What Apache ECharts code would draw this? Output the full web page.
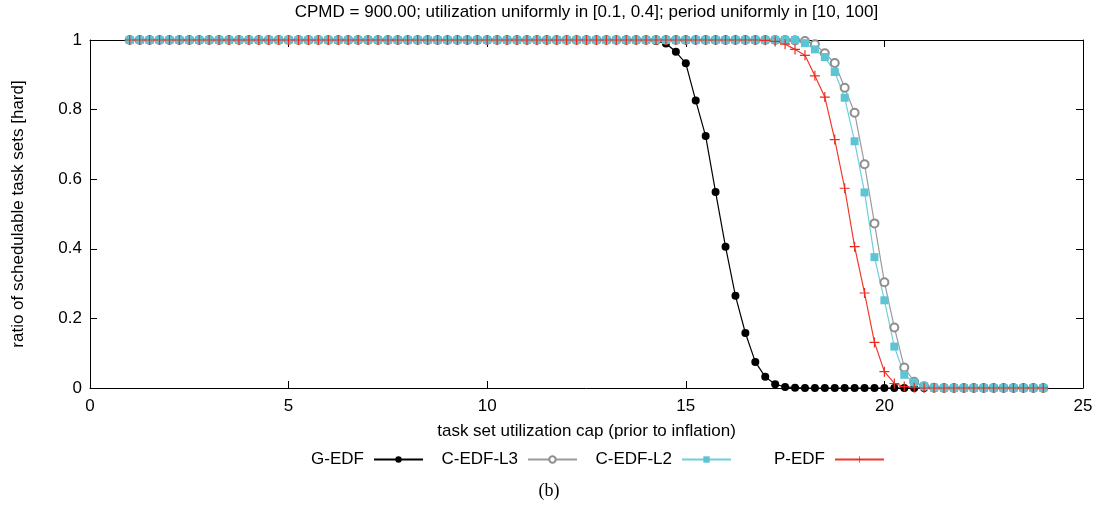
<!DOCTYPE html>
<html>
<head>
<meta charset="utf-8">
<script src="https://cdn.jsdelivr.net/npm/echarts@6/dist/echarts.min.js"></script>
<style>
html,body{margin:0;padding:0;background:#fff;}
#chart{width:1103px;height:507px;}
</style>
</head>
<body>
<div id="chart"></div>
<script>
// task set utilization cap (x values)
var xValues = [
  1,1.25,1.5,1.75, 2,2.25,2.5,2.75, 3,3.25,3.5,3.75, 4,4.25,4.5,4.75,
  5,5.25,5.5,5.75, 6,6.25,6.5,6.75, 7,7.25,7.5,7.75, 8,8.25,8.5,8.75,
  9,9.25,9.5,9.75, 10,10.25,10.5,10.75, 11,11.25,11.5,11.75, 12,12.25,12.5,12.75,
  13,13.25,13.5,13.75, 14,14.25,14.5,14.75, 15,15.25,15.5,15.75, 16,16.25,16.5,16.75,
  17,17.25,17.5,17.75, 18,18.25,18.5,18.75, 19,19.25,19.5,19.75, 20,20.25,20.5,20.75,
  21,21.25,21.5,21.75, 22,22.25,22.5,22.75, 23,23.25,23.5,23.75, 24
];
var gEdf = [
  1,1,1,1, 1,1,1,1, 1,1,1,1, 1,1,1,1,
  1,1,1,1, 1,1,1,1, 1,1,1,1, 1,1,1,1,
  1,1,1,1, 1,1,1,1, 1,1,1,1, 1,1,1,1,
  1,1,1,1, 1,0.997,0.99,0.966, 0.933,0.826,0.724,0.563, 0.406,0.265,0.158,0.075,
  0.032,0.011,0.003,0.001, 0,0,0,0, 0,0,0,0, 0,0,0,0,
  0,0,0,0, 0,0,0,0, 0,0,0,0, 0
];
var cEdfL3 = [
  1,1,1,1, 1,1,1,1, 1,1,1,1, 1,1,1,1,
  1,1,1,1, 1,1,1,1, 1,1,1,1, 1,1,1,1,
  1,1,1,1, 1,1,1,1, 1,1,1,1, 1,1,1,1,
  1,1,1,1, 1,1,1,1, 1,1,1,1, 1,1,1,1,
  1,1,1,0.999, 0.997,0.988,0.962,0.934, 0.863,0.791,0.643,0.473, 0.304,0.174,0.059,0.018,
  0.005,0.001,0,0, 0,0,0,0, 0,0,0,0, 0
];
var cEdfL2 = [
  1,1,1,1, 1,1,1,1, 1,1,1,1, 1,1,1,1,
  1,1,1,1, 1,1,1,1, 1,1,1,1, 1,1,1,1,
  1,1,1,1, 1,1,1,1, 1,1,1,1, 1,1,1,1,
  1,1,1,1, 1,1,1,1, 1,1,1,1, 1,1,1,1,
  1,1,1,1, 0.991,0.973,0.951,0.908, 0.834,0.709,0.562,0.376, 0.252,0.119,0.038,0.016,
  0.005,0.001,0,0, 0,0,0,0, 0,0,0,0, 0
];
var pEdf = [
  1,1,1,1, 1,1,1,1, 1,1,1,1, 1,1,1,1,
  1,1,1,1, 1,1,1,1, 1,1,1,1, 1,1,1,1,
  1,1,1,1, 1,1,1,1, 1,1,1,1, 1,1,1,1,
  1,1,1,1, 1,1,1,1, 1,1,1,1, 1,1,1,1,
  0.999,0.996,0.988,0.973, 0.956,0.897,0.836,0.714, 0.574,0.406,0.273,0.131, 0.047,0.013,0.004,0.001,
  0,0,0,0, 0,0,0,0, 0,0,0,0, 0
];
var seriesNames = ['G-EDF', 'C-EDF-L3', 'C-EDF-L2', 'P-EDF'];
var xTicks = [0, 5, 10, 15, 20, 25];
var yTicks = [0, 0.2, 0.4, 0.6, 0.8, 1];

function pairs(ys) { return xValues.map(function (x, i) { return [x, ys[i]]; }); }

var FONT = 'Liberation Sans';
var FS = 17;
var plusPath = 'path://M4.4,0H5.6V10H4.4Z M0,4.4H10V5.6H0Z';

var chart = echarts.init(document.getElementById('chart'), null, {renderer: 'canvas'});

function legendFor(name, rightPx) {
  return {
    data: [name],
    right: rightPx,
    top: 451,
    orient: 'horizontal',
    align: 'right',
    itemWidth: 49,
    itemHeight: 8,
    padding: 0,
    textStyle: {fontFamily: FONT, fontSize: FS, color: '#000', padding: [0, 5, 0, 0]}
  };
}

var axisLineStyle = {color: '#000', width: 1};

function frameAxis(extra) {
  var base = {
    type: 'value',
    axisLine: {show: true, onZero: false, lineStyle: axisLineStyle},
    axisTick: {show: true, inside: true, length: 7, lineStyle: axisLineStyle},
    splitLine: {show: false}
  };
  for (var k in extra) base[k] = extra[k];
  return base;
}

var option = {
  animation: false,
  backgroundColor: '#fff',
  grid: {left: 90, right: 20, top: 40, bottom: 119, containLabel: false},
  legend: [
    legendFor(seriesNames[0], 679),
    legendFor(seriesNames[1], 525),
    legendFor(seriesNames[2], 371),
    legendFor(seriesNames[3], 218)
  ],
  xAxis: [
    frameAxis({
      min: 0, max: 25, interval: 5, position: 'bottom',
      name: 'task set utilization cap (prior to inflation)',
      nameLocation: 'middle', nameGap: 35,
      nameTextStyle: {fontFamily: FONT, fontSize: FS, color: '#000'},
      axisLabel: {fontFamily: FONT, fontSize: FS, color: '#000', margin: 10,
        formatter: function (v) { return xTicks.indexOf(v) >= 0 ? String(v) : ''; }}
    }),
    frameAxis({min: 0, max: 25, interval: 5, position: 'top', axisLabel: {show: false}})
  ],
  yAxis: [
    frameAxis({
      min: 0, max: 1, interval: 0.2, position: 'left',
      name: 'ratio of schedulable task sets [hard]',
      nameLocation: 'middle', nameGap: 63,
      nameTextStyle: {fontFamily: FONT, fontSize: FS, color: '#000'},
      axisLabel: {fontFamily: FONT, fontSize: FS, color: '#000', margin: 8,
        formatter: function (v) {
          for (var i = 0; i < yTicks.length; i++) { if (Math.abs(yTicks[i] - v) < 1e-9) return String(yTicks[i]); }
          return '';
        }}
    }),
    frameAxis({min: 0, max: 1, interval: 0.2, position: 'right', axisLabel: {show: false}})
  ],
  series: [{
    name: seriesNames[0], type: 'line', data: pairs(gEdf),
    symbol: 'circle', symbolSize: 8,
    lineStyle: {color: '#000', width: 1.2},
    itemStyle: {color: '#000'}
  }, {
    name: seriesNames[1], type: 'line', data: pairs(cEdfL3),
    symbol: 'emptyCircle', symbolSize: 8,
    lineStyle: {color: '#9b9b9b', width: 1.2},
    itemStyle: {color: '#8e8e8e', borderWidth: 1}
  }, {
    name: seriesNames[2], type: 'line', data: pairs(cEdfL2),
    symbol: 'rect', symbolSize: 8,
    lineStyle: {color: '#6ccfdc', width: 1.2},
    itemStyle: {color: '#5cc5d5'}
  }, {
    name: seriesNames[3], type: 'line', data: pairs(pEdf),
    symbol: plusPath, symbolSize: 10,
    lineStyle: {color: '#f0382a', width: 1.2},
    itemStyle: {color: '#ee2a1e'}
  }],
  graphic: [{
    type: 'text', x: 586.5, y: 4,
    style: {
      text: 'CPMD = 900.00; utilization uniformly in [0.1, 0.4]; period uniformly in [10, 100]',
      fontFamily: FONT, fontSize: FS, fill: '#000', align: 'center', verticalAlign: 'top'
    }
  }, {
    type: 'text', x: 549, y: 482,
    style: {text: '(b)', fontFamily: 'Liberation Serif', fontSize: 18, fill: '#000', align: 'center', verticalAlign: 'top'}
  }]
};
chart.setOption(option);
</script>
</body>
</html>
